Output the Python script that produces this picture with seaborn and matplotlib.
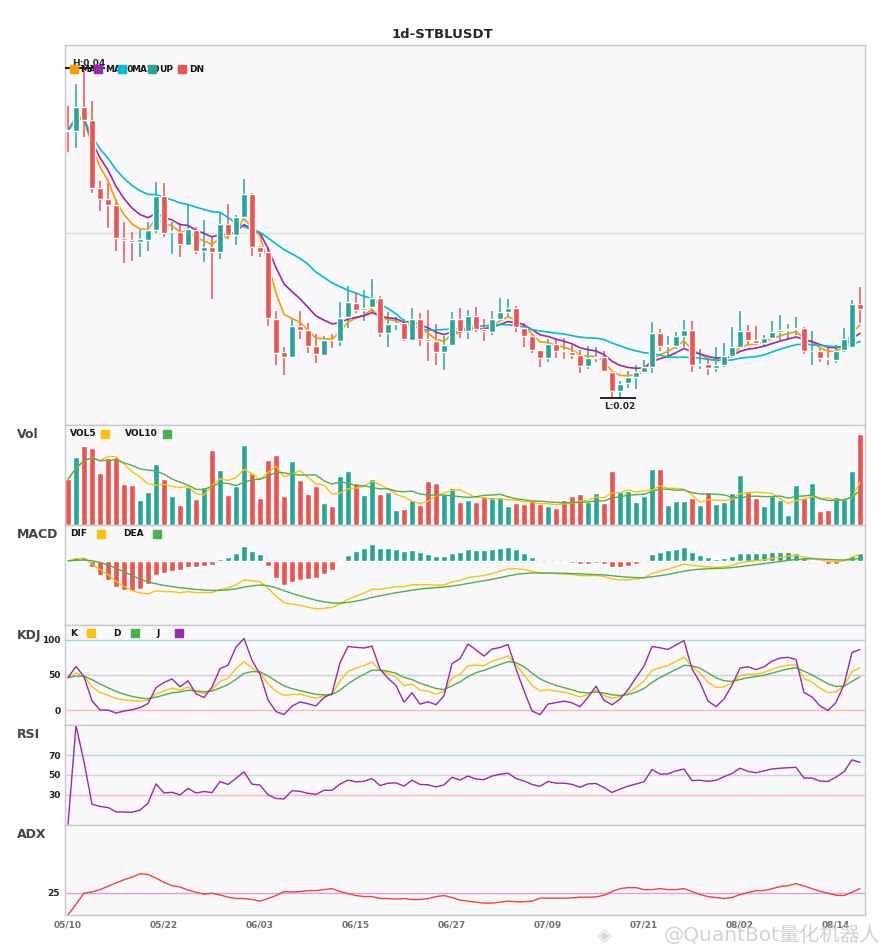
import numpy as np
import pandas as pd
import seaborn as sns
import matplotlib
matplotlib.use('Agg')
import matplotlib.pyplot as plt
from matplotlib.patches import Rectangle

sns.set_theme(style='white')
plt.rcParams['font.family'] = ['DejaVu Sans', 'Noto Sans CJK SC']

symbol = '1d-STBLUSDT'
tick_labels = ['05/10', '05/22', '06/03', '06/15', '06/27', '07/09', '07/21', '08/02', '08/14']

# daily candles 05/10 .. 08/17
opens = [0.03628, 0.03620, 0.03764, 0.03685, 0.03271, 0.03206, 0.03170, 0.02972, 0.02958, 0.02947,
         0.02959, 0.03018, 0.03224, 0.03006, 0.03008, 0.02927, 0.03022, 0.02893, 0.02915, 0.02885,
         0.03055, 0.02988, 0.03097, 0.03236, 0.02915, 0.02887, 0.02483, 0.02281, 0.02250, 0.02436,
         0.02412, 0.02315, 0.02261, 0.02353, 0.02347, 0.02493, 0.02578, 0.02533, 0.02553, 0.02606,
         0.02396, 0.02450, 0.02453, 0.02352, 0.02483, 0.02358, 0.02347, 0.02281, 0.02321, 0.02479,
         0.02408, 0.02497, 0.02422, 0.02402, 0.02483, 0.02521, 0.02545, 0.02424, 0.02376, 0.02291,
         0.02244, 0.02327, 0.02291, 0.02281, 0.02261, 0.02196, 0.02244, 0.02250, 0.02159, 0.02044,
         0.02093, 0.02129, 0.02159, 0.02190, 0.02398, 0.02315, 0.02315, 0.02376, 0.02412, 0.02200,
         0.02206, 0.02184, 0.02200, 0.02255, 0.02309, 0.02406, 0.02352, 0.02335, 0.02368, 0.02400,
         0.02412, 0.02420, 0.02424, 0.02285, 0.02287, 0.02244, 0.02230, 0.02291, 0.02311, 0.02570]
highs = [0.03770, 0.03901, 0.04000, 0.03800, 0.03315, 0.03305, 0.03206, 0.03067, 0.03008, 0.03018,
         0.03065, 0.03309, 0.03303, 0.03068, 0.03062, 0.03170, 0.03035, 0.03077, 0.02978, 0.03127,
         0.03176, 0.03109, 0.03327, 0.03242, 0.02921, 0.02917, 0.02527, 0.02311, 0.02479, 0.02527,
         0.02456, 0.02392, 0.02376, 0.02392, 0.02582, 0.02679, 0.02642, 0.02655, 0.02721, 0.02618,
         0.02523, 0.02493, 0.02479, 0.02545, 0.02517, 0.02533, 0.02448, 0.02376, 0.02525, 0.02544,
         0.02533, 0.02552, 0.02479, 0.02527, 0.02610, 0.02600, 0.02558, 0.02453, 0.02390, 0.02291,
         0.02358, 0.02365, 0.02368, 0.02325, 0.02291, 0.02319, 0.02309, 0.02287, 0.02159, 0.02103,
         0.02164, 0.02204, 0.02230, 0.02462, 0.02418, 0.02376, 0.02402, 0.02473, 0.02467, 0.02297,
         0.02241, 0.02309, 0.02335, 0.02430, 0.02527, 0.02442, 0.02436, 0.02382, 0.02467, 0.02503,
         0.02447, 0.02495, 0.02430, 0.02406, 0.02311, 0.02311, 0.02321, 0.02424, 0.02594, 0.02673]
lows = [0.03491, 0.03513, 0.03584, 0.03244, 0.03135, 0.03032, 0.02893, 0.02822, 0.02830, 0.02856,
        0.02893, 0.03002, 0.02974, 0.02875, 0.02855, 0.02923, 0.02871, 0.02826, 0.02600, 0.02844,
        0.02962, 0.02927, 0.03071, 0.02861, 0.02855, 0.02436, 0.02200, 0.02139, 0.02241, 0.02358,
        0.02275, 0.02214, 0.02256, 0.02307, 0.02317, 0.02426, 0.02517, 0.02467, 0.02517, 0.02372,
        0.02311, 0.02412, 0.02347, 0.02347, 0.02315, 0.02226, 0.02200, 0.02174, 0.02315, 0.02365,
        0.02358, 0.02402, 0.02347, 0.02382, 0.02462, 0.02489, 0.02402, 0.02309, 0.02277, 0.02190,
        0.02220, 0.02244, 0.02236, 0.02236, 0.02153, 0.02180, 0.02220, 0.02165, 0.02008, 0.02002,
        0.02062, 0.02059, 0.02153, 0.02153, 0.02285, 0.02244, 0.02301, 0.02311, 0.02159, 0.02176,
        0.02139, 0.02159, 0.02190, 0.02241, 0.02309, 0.02321, 0.02325, 0.02311, 0.02358, 0.02352,
        0.02352, 0.02382, 0.02267, 0.02200, 0.02220, 0.02200, 0.02214, 0.02281, 0.02309, 0.02459]
closes = [0.03620, 0.03764, 0.03687, 0.03275, 0.03208, 0.03172, 0.02972, 0.02959, 0.02947, 0.02964,
          0.03018, 0.03224, 0.03002, 0.03012, 0.02933, 0.03024, 0.02893, 0.02915, 0.02885, 0.03055,
          0.02986, 0.03097, 0.03236, 0.02915, 0.02887, 0.02487, 0.02275, 0.02250, 0.02436, 0.02412,
          0.02315, 0.02267, 0.02356, 0.02350, 0.02489, 0.02582, 0.02533, 0.02544, 0.02606, 0.02396,
          0.02448, 0.02456, 0.02358, 0.02483, 0.02358, 0.02347, 0.02281, 0.02321, 0.02479, 0.02408,
          0.02497, 0.02422, 0.02408, 0.02483, 0.02521, 0.02545, 0.02432, 0.02376, 0.02291, 0.02244,
          0.02327, 0.02287, 0.02287, 0.02261, 0.02196, 0.02244, 0.02250, 0.02165, 0.02044, 0.02089,
          0.02129, 0.02159, 0.02190, 0.02398, 0.02317, 0.02321, 0.02376, 0.02412, 0.02200, 0.02206,
          0.02184, 0.02200, 0.02255, 0.02309, 0.02406, 0.02356, 0.02335, 0.02368, 0.02400, 0.02412,
          0.02420, 0.02426, 0.02287, 0.02287, 0.02244, 0.02238, 0.02287, 0.02358, 0.02570, 0.02539]
volumes = [137, 203, 236, 230, 155, 200, 203, 122, 119, 74,
           98, 182, 137, 86, 59, 113, 77, 113, 224, 164,
           89, 117, 239, 155, 80, 194, 209, 86, 191, 134,
           92, 116, 65, 56, 146, 161, 125, 89, 137, 92,
           98, 44, 47, 74, 59, 131, 125, 92, 110, 68,
           74, 68, 86, 83, 83, 56, 65, 62, 74, 62,
           56, 50, 74, 86, 92, 68, 95, 65, 161, 98,
           101, 68, 86, 167, 167, 59, 71, 71, 80, 59,
           98, 62, 68, 95, 149, 101, 80, 56, 86, 74,
           29, 119, 80, 125, 41, 44, 83, 80, 161, 272]
adx_vals = [0, 12, 24.2, 25.6, 28.2, 31.9, 35.5, 39.2, 42.1, 45.8,
            45.1, 41.0, 36.3, 32.6, 31.1, 27.8, 25.3, 23.1, 24.2, 22.3,
            19.8, 18.3, 18.3, 17.2, 15.4, 18.3, 21.6, 26.0, 25.6, 26.0,
            27.1, 27.1, 28.2, 29.3, 26.0, 23.8, 21.6, 20.5, 20.5, 18.3,
            18.3, 17.6, 18.3, 17.2, 17.2, 18.3, 20.5, 21.6, 19.4, 16.5,
            15.4, 14.3, 13.2, 13.2, 14.3, 15.4, 14.7, 14.7, 15.4, 18.7,
            18.7, 18.7, 18.7, 19.0, 19.8, 19.8, 20.1, 22.0, 26.0, 29.3,
            30.4, 30.4, 28.2, 28.2, 29.3, 28.2, 28.2, 29.3, 26.0, 22.7,
            20.5, 19.4, 18.3, 19.4, 22.7, 24.9, 27.1, 27.1, 29.3, 31.5,
            32.6, 34.8, 32.2, 29.3, 26.4, 24.2, 22.0, 21.6, 25.3, 29.3]

UP = '#26a69a'
DN = '#ef5350'
AMBER = '#ffc107'
GREEN = '#4caf50'
PURPLE = '#9c27b0'

df = pd.DataFrame({'o': opens, 'h': highs, 'l': lows, 'c': closes, 'v': volumes, 'adx': adx_vals})
df['i'] = np.arange(len(df))
cols = np.where(df['c'] >= df['o'], UP, DN)

# indicators
df['ma5'] = df['c'].ewm(span=5).mean()
df['ma10'] = df['c'].ewm(span=10).mean()
df['ma20'] = df['c'].rolling(20, min_periods=1).mean()
df['vol5'] = df['v'].rolling(5, min_periods=1).mean()
df['vol10'] = df['v'].rolling(10, min_periods=1).mean()
ema12 = df['c'].ewm(span=12, adjust=False).mean()
ema26 = df['c'].ewm(span=26, adjust=False).mean()
df['dif'] = ema12 - ema26
df['dea'] = df['dif'].ewm(span=9, adjust=False).mean()
df['hist'] = 2 * (df['dif'] - df['dea'])
low9 = df['l'].rolling(9, min_periods=1).min()
high9 = df['h'].rolling(9, min_periods=1).max()
rsv = (df['c'] - low9) / (high9 - low9) * 100
df['k'] = rsv.ewm(com=2, adjust=False).mean()
df['d'] = df['k'].ewm(com=2, adjust=False).mean()
df['j'] = 3 * df['k'] - 2 * df['d']
delta = df['c'].diff()
gain = delta.clip(lower=0).ewm(alpha=1 / 14).mean()
loss = (-delta.clip(upper=0)).ewm(alpha=1 / 14).mean()
df['rsi'] = (100 * gain / (gain + loss)).fillna(0)

W, H = 885, 950
fig = plt.figure(figsize=(W / 100, H / 100), dpi=100)
gs = fig.add_gridspec(6, 1, height_ratios=[380, 100, 100, 100, 100, 90], hspace=0,
                      left=65 / W, right=865 / W, top=1 - 45 / H, bottom=1 - 915 / H)
ax_main = fig.add_subplot(gs[0])
ax_vol = fig.add_subplot(gs[1], sharex=ax_main)
ax_macd = fig.add_subplot(gs[2], sharex=ax_main)
ax_kdj = fig.add_subplot(gs[3], sharex=ax_main)
ax_rsi = fig.add_subplot(gs[4], sharex=ax_main)
ax_adx = fig.add_subplot(gs[5], sharex=ax_main)
all_axes = [ax_main, ax_vol, ax_macd, ax_kdj, ax_rsi, ax_adx]

for ax in all_axes:
    ax.set_facecolor('#f9f9fb')
    for sp in ax.spines.values():
        sp.set_color('#c8c8d0')
        sp.set_linewidth(1)
    ax.tick_params(length=0, labelbottom=False, labelleft=False)


def line(ax, col, color, lw=1.0):
    sns.lineplot(data=df, x='i', y=col, ax=ax, color=color, lw=lw, legend=False)
    ax.set_xlabel('')
    ax.set_ylabel('')


# candles
body = (df['c'] - df['o']).abs().clip(lower=0.00004)
ax_main.vlines(df['i'], df['l'], df['h'], colors=cols, lw=1.1, zorder=2)
ax_main.bar(df['i'], body, bottom=np.minimum(df['o'], df['c']), width=0.75, color=cols, zorder=3)
line(ax_main, 'ma5', '#ff9800', 1.2)
line(ax_main, 'ma10', PURPLE, 1.2)
line(ax_main, 'ma20', '#00bcd4', 1.2)
lo, hi = df['l'].min(), df['h'].max()
r = hi - lo
ax_main.set_ylim(lo - 0.082 * r, hi + 0.07 * r)
ax_main.set_yticks([0.03])
ax_main.grid(axis='y', color='#dcdce2', lw=1)
ihi, ilo = df['h'].idxmax(), df['l'].idxmin()
ax_main.hlines(hi, ihi - 2.8, ihi + 2.6, color='black', lw=1.2, zorder=5)
ax_main.text(ihi - 1.5, hi, f'H:{hi:.2f}', fontsize=6.5, weight='bold', va='bottom', ha='left', zorder=5)
ax_main.hlines(lo, ilo - 2.5, ilo + 2.0, color='black', lw=1.2, zorder=5)
ax_main.annotate(f'L:{lo:.2f}', (ilo, lo), xytext=(0, -3), textcoords='offset points',
                 fontsize=6.5, weight='bold', va='top', ha='center')

# volume
ax_vol.bar(df['i'], df['v'], width=0.75, color=cols)
line(ax_vol, 'vol5', AMBER)
line(ax_vol, 'vol10', GREEN)
ax_vol.set_ylim(0, df['v'].max() * 1.1)

# macd
hcols = np.where(df['hist'] >= 0, UP, DN)
ax_macd.bar(df['i'], df['hist'], width=0.75, color=hcols)
ax_macd.axhline(0, color='#d6d6dc', lw=1, zorder=0)
line(ax_macd, 'dif', AMBER)
line(ax_macd, 'dea', GREEN)
mlo = min(df['dif'].min(), df['dea'].min(), df['hist'].min())
mhi = max(df['dif'].max(), df['dea'].max(), df['hist'].max())
mr = mhi - mlo
ax_macd.set_ylim(mlo - 0.25 * mr, mhi + 0.3 * mr)

# kdj
for lvl, c in [(100, '#a8dcd6'), (50, '#d0d0d6'), (0, '#ffb8b8')]:
    ax_kdj.axhline(lvl, color=c, lw=1, zorder=0)
line(ax_kdj, 'k', AMBER)
line(ax_kdj, 'd', GREEN)
line(ax_kdj, 'j', PURPLE)
ax_kdj.set_ylim(-20.5, 120.5)
ax_kdj.set_yticks([0, 50, 100])

# rsi
for lvl, c in [(70, '#a8dcd6'), (50, '#d0d0d6'), (30, '#ffb8b8')]:
    ax_rsi.axhline(lvl, color=c, lw=1, zorder=0)
line(ax_rsi, 'rsi', PURPLE)
ax_rsi.set_ylim(-0.5, 100.5)
ax_rsi.set_yticks([30, 50, 70])

# adx
ax_adx.axhline(25, color='#dda0dd', lw=1, zorder=0)
line(ax_adx, 'adx', '#f44336')
ax_adx.set_ylim(0, 100)
ax_adx.set_yticks([25])

for ax in [ax_kdj, ax_rsi, ax_adx]:
    ax.tick_params(labelleft=True, pad=3)
    for t in ax.get_yticklabels():
        t.set_fontsize(6.5)
        t.set_fontweight('bold')
        t.set_color('#222222')

ax_main.set_xlim(-0.375, len(df) - 0.375)
ax_adx.set_xticks(np.arange(0, len(df), 12))
ax_adx.set_xticklabels(tick_labels)
ax_adx.tick_params(labelbottom=True, pad=4)
for t in ax_adx.get_xticklabels():
    t.set_fontsize(6.5)
    t.set_fontweight('bold')
    t.set_color('#707070')


# legends and panel captions in pixel coords
def fx(px):
    return px / W


def fy(py):
    return 1 - py / H


def square(px, py, color):
    fig.add_artist(Rectangle((fx(px), fy(py + 4)), 8 / W, 8 / H, transform=fig.transFigure,
                             color=color, zorder=10))


def label(px, py, s):
    fig.text(fx(px), fy(py), s, fontsize=6.5, weight='bold', color='#111111', va='center', zorder=9)


fig.text(0.5, fy(34), symbol, fontsize=9.5, weight='bold', ha='center', va='center')

# main legend
label(80, 69, 'MA5')
label(105, 69, 'MA10')
label(131, 69, 'MA20')
label(159, 69, 'UP')
label(189, 69, 'DN')
square(70, 69, '#ff9800')
square(94, 69, PURPLE)
square(118, 69, '#00bcd4')
square(148, 69, UP)
square(178, 69, DN)

label(70, 434, 'VOL5')
square(101, 434, AMBER)
label(125, 434, 'VOL10')
square(163, 434, GREEN)

label(70, 534, 'DIF')
square(97, 534, AMBER)
label(123, 534, 'DEA')
square(153, 534, GREEN)

label(70, 633, 'K')
square(87, 633, AMBER)
label(113, 633, 'D')
square(131, 633, GREEN)
label(156, 633, 'J')
square(175, 633, PURPLE)

for name, py in [('Vol', 434.5), ('MACD', 534), ('KDJ', 635), ('RSI', 734.5), ('ADX', 835)]:
    fig.text(fx(17), fy(py), name, fontsize=9, weight='bold', color='#444444', va='center')

# watermark, kept just under the date labels
fig.text(fx(604), fy(935), '\u25c8', fontsize=14, color='#cfcfcf', ha='center', va='center', alpha=0.8)
fig.text(fx(880), fy(935), '@QuantBot量化机器人', fontsize=14.5, color='#c8c8c8',
         ha='right', va='center', alpha=0.8)

fig.savefig('out.png', dpi=100)
